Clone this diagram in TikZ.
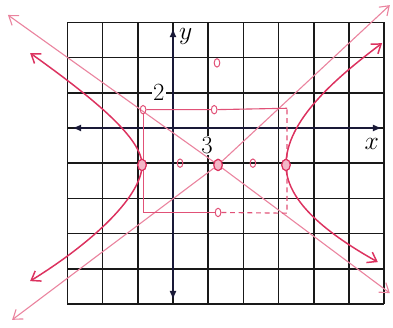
\documentclass[tikz,border=0pt]{standalone}
\usetikzlibrary{arrows.meta,shapes.geometric}
\definecolor{handred}{RGB}{220,50,95}
\definecolor{axisblue}{RGB}{25,25,55}
\begin{document}
\begin{tikzpicture}[
            >={Straight Barb[length=2.4mm,width=3.4mm]},
            grid line/.style={line width=1.2pt, black!90},
            axis/.style={line width=1.5pt, axisblue, {Latex[length=2.6mm,width=2mm]}-{Latex[length=2.6mm,width=2mm]}},
            tick label/.style={fill=white, inner sep=1pt, font=\fontsize{20}{24}\selectfont},
            axis label/.style={inner sep=1pt, font=\fontsize{20}{24}\selectfont},
            asym/.style={handred!60, line width=0.9pt, <->},
            branch/.style={handred, line width=1.2pt, <->},
            box/.style={handred!85, line width=0.9pt},
            bigdot/.style={ellipse, draw=handred, fill=handred!35, line width=0.9pt, minimum width=2.4mm, minimum height=3.2mm, inner sep=0pt},
            dot/.style={ellipse, draw=handred!85, line width=0.8pt, minimum width=1.6mm, minimum height=2.4mm, inner sep=0pt}
            ]
            \useasboundingbox (-4.915,-5.682) rectangle (6.25,3.636);

            % grid and axes
            \draw[grid line] (-3,-5) grid (6,3);
            \coordinate (xl) at (-2.87,0);
            \coordinate (xr) at (5.94,0);
            \coordinate (yt) at (0,2.84);
            \coordinate (yb) at (0,-4.89);
            \draw[axis] (xl) -- (xr);
            \draw[axis] (yb) -- (yt);

            \node[tick label] (two) at (-0.4,1) {2};
            \node[tick label] (three) at (0.97,-0.5) {3};
            \node[axis label] (ylab) at (0.36,2.6) {$y$};
            \node[axis label] (xlab) at (5.65,-0.45) {$x$};

            % asymptotes
            \node[bigdot] (c) at (1.28,-1.05) {};
            \coordinate (anw) at (-4.69,3.21);
            \coordinate (ase) at (6.16,-4.69);
            \coordinate (ane) at (6.16,3.49);
            \coordinate (asw) at (-4.57,-5.45);
            \draw[asym] (anw) -- (c.center) -- (ase);
            \draw[asym] (asw) -- (c.center) -- (ane);

            % box
            \node[dot] (cnw) at (-0.85,0.52) {};
            \node[dot] (bt) at (1.17,0.52) {};
            \node[dot] (bb) at (1.28,-2.4) {};
            \coordinate (rne) at (3.24,0.56);
            \coordinate (rse) at (3.24,-2.42);
            \coordinate (rsw) at (-0.85,-2.4);
            \draw[box] (cnw) -- (bt) -- (rne);
            \draw[box] (cnw) -- (rsw) -- (bb);
            \draw[box, dashed, dash pattern=on 4pt off 3pt] (bb) -- (rse) -- (rne);

            % branches
            \node[bigdot] (lv) at (-0.88,-1.05) {};
            \node[bigdot] (rv) at (3.21,-1.05) {};
            \coordinate (lbn) at (-4.06,2.13);
            \coordinate (lbs) at (-4.06,-4.35);
            \coordinate (rbn) at (5.94,2.41);
            \coordinate (rbs) at (5.82,-3.81);
            \draw[branch] (lbn) .. controls (-2.2,0.8) and (-0.88,-0.3) .. (lv.center)
                .. controls (-0.88,-1.9) and (-2.2,-3.2) .. (lbs);
            \draw[branch] (rbn) .. controls (4.6,1.4) and (3.21,0.2) .. (rv.center)
                .. controls (3.21,-2.0) and (4.2,-2.9) .. (rbs);
            \node[bigdot] at (lv) {};
            \node[bigdot] at (rv) {};
            \node[bigdot] at (c) {};

            % other points
            \node[dot] (fl) at (0.2,-1.0) {};
            \node[dot] (fr) at (2.27,-1.0) {};
            \node[dot] (ft) at (1.25,1.85) {};

            \end{tikzpicture}
\end{document}
